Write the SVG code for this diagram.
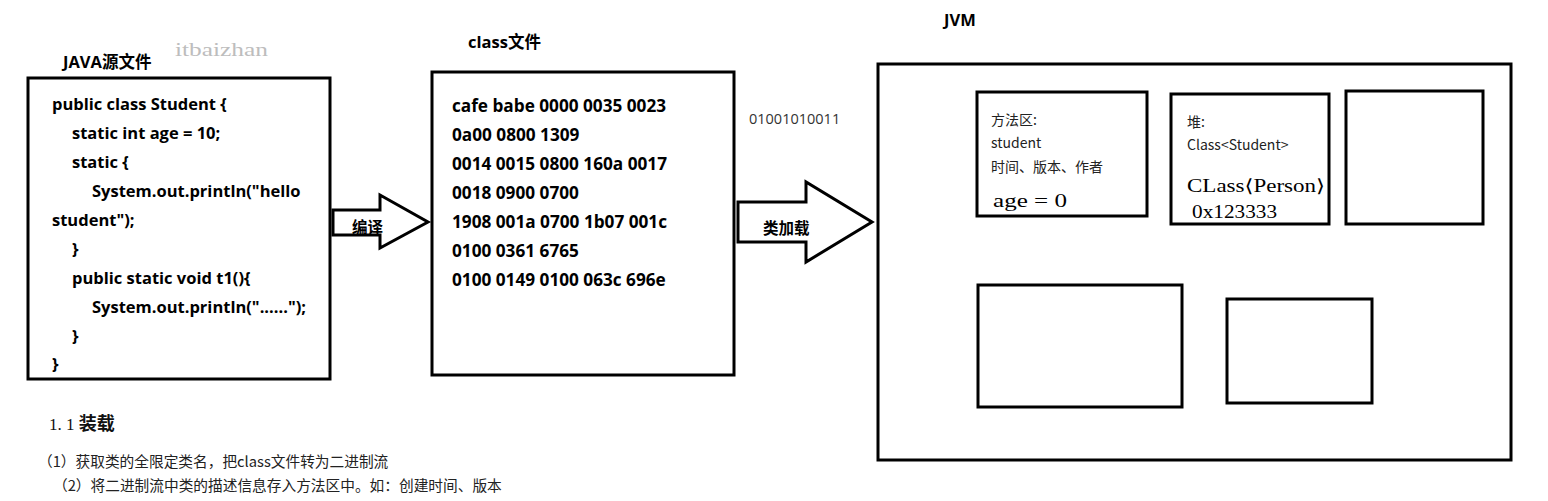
<svg xmlns="http://www.w3.org/2000/svg" width="1548" height="501" viewBox="0 0 1548 501">
<style>
.box{fill:#fff;stroke:#000;stroke-width:3}
.arrow{fill:#fff;stroke:#000;stroke-width:3;stroke-linejoin:miter}
.title{font-family:"Open Sans","Noto Sans CJK SC",sans-serif;font-weight:bold;font-size:16.5px;fill:#000}
.lbl{font-family:"Open Sans","Noto Sans CJK SC",sans-serif;font-weight:bold;font-size:15.5px;fill:#000}
.code{font-family:"Open Sans","Noto Sans CJK SC",sans-serif;font-weight:bold;font-size:16.5px;fill:#000}
.hex{font-family:"Open Sans",sans-serif;font-weight:bold;font-size:17.2px;fill:#000}
.small{font-family:"Noto Sans CJK SC",sans-serif;font-size:14px;fill:#222}
.serif{font-family:"Liberation Serif","DejaVu Serif",serif;font-size:18px;fill:#000}
.note{font-family:"Noto Sans CJK SC",sans-serif;font-size:14.7px;fill:#222}
</style>
<rect width="1548" height="501" fill="#fff"/>
<text x="175" y="56" font-family="Liberation Serif,serif" font-size="19" fill="#bdbdbd" textLength="93" lengthAdjust="spacingAndGlyphs">itbaizhan</text>
<g id="java-source">
<text class="title" x="63" y="68">JAVA源文件</text>
<rect class="box" x="28" y="78" width="302" height="301"/>
<text class="code" x="52" y="110">public class Student {</text>
<text class="code" x="72" y="139">static int age = 10;</text>
<text class="code" x="72" y="168">static {</text>
<text class="code" x="92" y="197">System.out.println("hello</text>
<text class="code" x="52" y="226">student");</text>
<text class="code" x="72" y="255">}</text>
<text class="code" x="72" y="284">public static void t1(){</text>
<text class="code" x="92" y="313">System.out.println("......");</text>
<text class="code" x="72" y="342">}</text>
<text class="code" x="52" y="370">}</text>
</g>
<g id="class-file">
<text class="title" x="468" y="48">class文件</text>
<rect class="box" x="432" y="72" width="302" height="303"/>
<text class="hex" x="452" y="112">cafe babe 0000 0035 0023</text>
<text class="hex" x="452" y="141">0a00 0800 1309</text>
<text class="hex" x="452" y="170">0014 0015 0800 160a 0017</text>
<text class="hex" x="452" y="199">0018 0900 0700</text>
<text class="hex" x="452" y="228">1908 001a 0700 1b07 001c</text>
<text class="hex" x="452" y="257">0100 0361 6765</text>
<text class="hex" x="452" y="286">0100 0149 0100 063c 696e</text>
</g>
<g id="connectors">
<g id="compile-arrow">
<polygon class="arrow" points="333,210 380,210 380,195 428,222 380,248 380,235 333,235"/>
<text class="lbl" x="352" y="233">编译</text>
</g>
<g id="classload-arrow">
<polygon class="arrow" points="738,202 806,202 806,182 872,222 806,262 806,242 738,242"/>
<text class="lbl" x="763" y="234">类加载</text>
</g>
<text x="749" y="124" font-family="Open Sans,sans-serif" font-size="14.5" fill="#333">01001010011</text>
</g>
<g id="jvm">
<text class="title" x="944" y="26">JVM</text>
<rect class="box" x="878" y="64" width="633" height="396"/>
</g>
<g id="method-area">
<rect class="box" x="977" y="92" width="170" height="124"/>
<text class="small" x="991" y="125">方法区:</text>
<text class="small" x="991" y="148">student</text>
<text class="small" x="991" y="172">时间、版本、作者</text>
<text class="serif" x="993" y="207" textLength="74" lengthAdjust="spacingAndGlyphs">age = 0</text>
</g>
<g id="heap">
<rect class="box" x="1171" y="94" width="158" height="130"/>
<text class="small" x="1187" y="127">堆:</text>
<text class="small" x="1187" y="150">Class&lt;Student&gt;</text>
<text class="serif" x="1187" y="192" textLength="138" lengthAdjust="spacingAndGlyphs">CLass⟨Person⟩</text>
<text class="serif" x="1192" y="218" textLength="85" lengthAdjust="spacingAndGlyphs">0x123333</text>
</g>
<g id="area-3">
<rect class="box" x="1346" y="91" width="137" height="133"/>
</g>
<g id="area-4">
<rect class="box" x="978" y="285" width="204" height="122"/>
</g>
<g id="area-5">
<rect class="box" x="1227" y="299" width="145" height="104"/>
</g>
<g id="notes">
<text x="49" y="430" font-family="Liberation Serif,serif" font-size="17" fill="#111">1. 1 <tspan font-family="Noto Sans CJK SC,sans-serif" font-weight="bold" font-size="18">装载</tspan></text>
<text class="note" x="38" y="467">（1）获取类的全限定类名，把class文件转为二进制流</text>
<text class="note" x="53" y="491">（2）将二进制流中类的描述信息存入方法区中。如：创建时间、版本</text>
</g>
</svg>
